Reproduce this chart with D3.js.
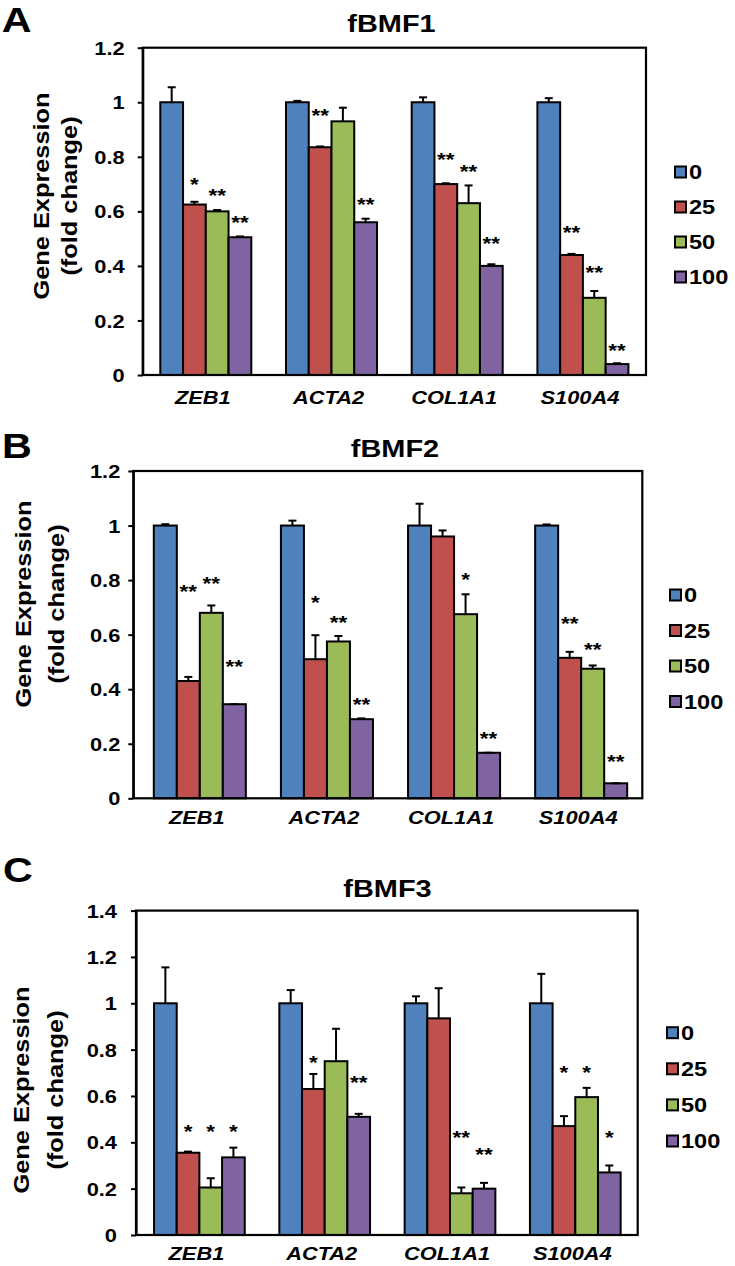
<!DOCTYPE html>
<html><head><meta charset="utf-8">
<script src="https://cdn.jsdelivr.net/npm/d3@7"></script>
<style>html,body{margin:0;padding:0;background:#fff}</style>
</head><body><svg id="c"></svg>
<script>
// ---------- DATA ----------
const categories = ["ZEB1", "ACTA2", "COL1A1", "S100A4"];
const doses = ["0", "25", "50", "100"];
const panelTitles = ["fBMF1", "fBMF2", "fBMF3"];
const panelLetters = ["A", "B", "C"];
const yTicksAB = [0, 0.2, 0.4, 0.6, 0.8, 1, 1.2];
const yTicksC = [0, 0.2, 0.4, 0.6, 0.8, 1, 1.2, 1.4];
const yAxisTitle = ["Gene Expression", "(fold change)"];

// rows = categories, columns = doses (0, 25, 50, 100)
const fBMF1Values = [[1, 0.625, 0.60, 0.505], [1, 0.835, 0.93, 0.56], [1, 0.70, 0.63, 0.40], [1, 0.44, 0.283, 0.04]];
const fBMF1Errors = [[0.055, 0.01, 0.005, 0.003], [0.005, 0.003, 0.05, 0.013], [0.018, 0.003, 0.065, 0.006], [0.015, 0.004, 0.025, 0.003]];
const fBMF1Stars = [["", "*", "**", "**"], ["", "**", "", "**"], ["", "**", "**", "**"], ["", "**", "**", "**"]];
const fBMF1StarY = [[0, 0.715, 0.676, 0.576], [0, 0.968, 0, 0.642], [0, 0.807, 0.764, 0.499], [0, 0.539, 0.392, 0.106]];

const fBMF2Values = [[1, 0.43, 0.68, 0.345], [1, 0.51, 0.575, 0.29], [1, 0.96, 0.675, 0.167], [1, 0.515, 0.475, 0.055]];
const fBMF2Errors = [[0.005, 0.015, 0.027, 0], [0.018, 0.088, 0.02, 0.003], [0.08, 0.022, 0.073, 0], [0.004, 0.022, 0.012, 0]];
const fBMF2Stars = [["", "**", "**", "**"], ["", "*", "**", "**"], ["", "", "*", "**"], ["", "**", "**", "**"]];
const fBMF2StarY = [[0, 0.774, 0.804, 0.498], [0, 0.735, 0.662, 0.36], [0, 0, 0.817, 0.235], [0, 0.656, 0.561, 0.152]];

const fBMF3Values = [[1, 0.355, 0.205, 0.335], [1, 0.63, 0.75, 0.51], [1, 0.935, 0.18, 0.20], [1, 0.47, 0.595, 0.27]];
const fBMF3Errors = [[0.155, 0.005, 0.04, 0.042], [0.057, 0.065, 0.14, 0.013], [0.03, 0.13, 0.025, 0.025], [0.127, 0.043, 0.04, 0.03]];
const fBMF3Stars = [["", "*", "*", "*"], ["", "*", "", "**"], ["", "", "**", "**"], ["", "*", "*", "*"]];
const fBMF3StarY = [[0, 0.465, 0.465, 0.465], [0, 0.763, 0, 0.676], [0, 0, 0.442, 0.367], [0, 0.722, 0.722, 0.442]];

const seriesColors = ["#4F81BD", "#C0504D", "#9BBB59", "#8064A2"];

// ---------- LAYOUT ----------
const W = 735, H = 1266;
const SX = 1.18; // horizontal glyph stretch of the original figure
const FONT = "'Liberation Sans', Arial, Helvetica, sans-serif";

const layouts = [
  {top: 47.7, bottom: 375, left: 142.7, right: 646, shift: 0, yMax: 1.2, ticks: yTicksAB, tickPad: 13,
   titleX: 391.5, titleY: 32, letterX: 1.7, letterY: 31.7, geX: 48.5, fcX: 77, yLabelY: 196, catDy: 28.5,
   legX: 675, legY0: 172, legStep: 35},
  {top: 471, bottom: 798.3, left: 133.3, right: 642.3, shift: 2.7, yMax: 1.2, ticks: yTicksAB, tickPad: 8,
   titleX: 395, titleY: 457, letterX: 2, letterY: 458, geX: 31, fcX: 63.5, yLabelY: 604, catDy: 26,
   legX: 670, legY0: 595, legStep: 35.5},
  {top: 910.6, bottom: 1235, left: 136, right: 637.7, shift: 0.5, yMax: 1.4, ticks: yTicksC, tickPad: 14,
   titleX: 387.5, titleY: 896.7, letterX: 3, letterY: 882, geX: 29, fcX: 62.5, yLabelY: 1090, catDy: 25,
   legX: 667, legY0: 1032.7, legStep: 36.1}
];
const panelData = [
  {values: fBMF1Values, errors: fBMF1Errors, stars: fBMF1Stars, starY: fBMF1StarY},
  {values: fBMF2Values, errors: fBMF2Errors, stars: fBMF2Stars, starY: fBMF2StarY},
  {values: fBMF3Values, errors: fBMF3Errors, stars: fBMF3Stars, starY: fBMF3StarY}
];

const svg = d3.select("#c").attr("width", W).attr("height", H)
  .attr("font-family", FONT);
svg.append("rect").attr("width", W).attr("height", H).attr("fill", "#fff");

function stretchedText(g, x, y, str, opts) {
  const t = g.append("text")
    .attr("transform", `translate(${x},${y})` + (opts.rotate ? ` rotate(${opts.rotate})` : "") + ` scale(${SX},1)`)
    .attr("font-size", opts.size)
    .attr("font-weight", opts.weight || "bold")
    .attr("font-style", opts.italic ? "italic" : "normal")
    .attr("text-anchor", opts.anchor || "start")
    .attr("fill", "#000")
    .text(str);
  return t;
}

layouts.forEach((L, pi) => {
  const D = panelData[pi];
  const g = svg.append("g");

  const y = d3.scaleLinear().domain([0, L.yMax]).range([L.bottom, L.top]);
  const x = d3.scaleBand().domain(categories)
    .range([L.left + L.shift, L.right + L.shift])
    .paddingInner(0.276).paddingOuter(0.14);
  const xs = d3.scaleBand().domain(doses).range([0, x.bandwidth()]);

  // bars
  categories.forEach((cat, ci) => {
    const cg = g.append("g").attr("transform", `translate(${x(cat)},0)`);
    cg.selectAll("rect.bar").data(doses).join("rect")
      .attr("class", "bar")
      .attr("x", d => xs(d))
      .attr("y", (d, i) => y(D.values[ci][i]))
      .attr("width", xs.bandwidth())
      .attr("height", (d, i) => y(0) - y(D.values[ci][i]))
      .attr("fill", (d, i) => seriesColors[i])
      .attr("stroke", "#000").attr("stroke-width", 2);

    // error bars (plus direction only)
    doses.forEach((d, i) => {
      const cx = xs(d) + xs.bandwidth() / 2;
      const v = D.values[ci][i], e = D.errors[ci][i];
      cg.append("line").attr("x1", cx).attr("x2", cx)
        .attr("y1", y(v)).attr("y2", y(v + e))
        .attr("stroke", "#000").attr("stroke-width", 2);
      cg.append("line").attr("x1", cx - 4).attr("x2", cx + 4)
        .attr("y1", y(v + e)).attr("y2", y(v + e))
        .attr("stroke", "#000").attr("stroke-width", 2);
      const s = D.stars[ci][i];
      if (s) {
        stretchedText(cg, cx, y(D.starY[ci][i]) + 11, s, {size: 19, weight: "bold", anchor: "middle"});
      }
    });
  });

  // plot box
  g.append("rect").attr("x", L.left).attr("y", L.top)
    .attr("width", L.right - L.left).attr("height", L.bottom - L.top)
    .attr("fill", "none").attr("stroke", "#000").attr("stroke-width", 2.2);

  // y axis
  const ax = g.append("g").attr("transform", `translate(${L.left},0)`)
    .call(d3.axisLeft(y).tickValues(L.ticks).tickSize(5).tickSizeOuter(0)
      .tickPadding(L.tickPad).tickFormat(d => d3.format("")(+d.toFixed(1))));
  ax.select(".domain").attr("stroke", "#000").attr("stroke-width", 2.2);
  ax.selectAll(".tick line").attr("stroke", "#000").attr("stroke-width", 2);
  ax.selectAll(".tick text").each(function () {
    const t = d3.select(this);
    const tx = +t.attr("x");
    t.attr("x", 0).attr("dy", null).attr("y", 0)
      .attr("transform", `translate(${tx},6.6) scale(${SX},1)`);
  })
    .attr("font-size", 18.5).attr("font-weight", "bold").attr("fill", "#000")
    .attr("font-family", FONT);

  // category labels
  categories.forEach(cat => {
    stretchedText(g, x(cat) + x.bandwidth() / 2 - 3, L.bottom + L.catDy, cat,
      {size: 18.5, italic: true, anchor: "middle"});
  });

  // title and panel letter
  stretchedText(g, L.titleX, L.titleY, panelTitles[pi], {size: 24.5, anchor: "middle"});
  stretchedText(g, L.letterX, L.letterY, panelLetters[pi], {size: 35, anchor: "start"});

  // y axis title
  stretchedText(g, L.geX, L.yLabelY, yAxisTitle[0], {size: 21.5, anchor: "middle", rotate: -90});
  stretchedText(g, L.fcX, L.yLabelY, yAxisTitle[1], {size: 21.5, anchor: "middle", rotate: -90});

  // legend
  doses.forEach((d, i) => {
    const cy = L.legY0 + i * L.legStep;
    g.append("rect").attr("x", L.legX).attr("y", cy - 5.5)
      .attr("width", 11).attr("height", 11)
      .attr("fill", seriesColors[i]).attr("stroke", "#000").attr("stroke-width", 2);
    stretchedText(g, L.legX + 14, cy + 7.2, d, {size: 20, anchor: "start"});
  });
});
</script>
</body></html>
